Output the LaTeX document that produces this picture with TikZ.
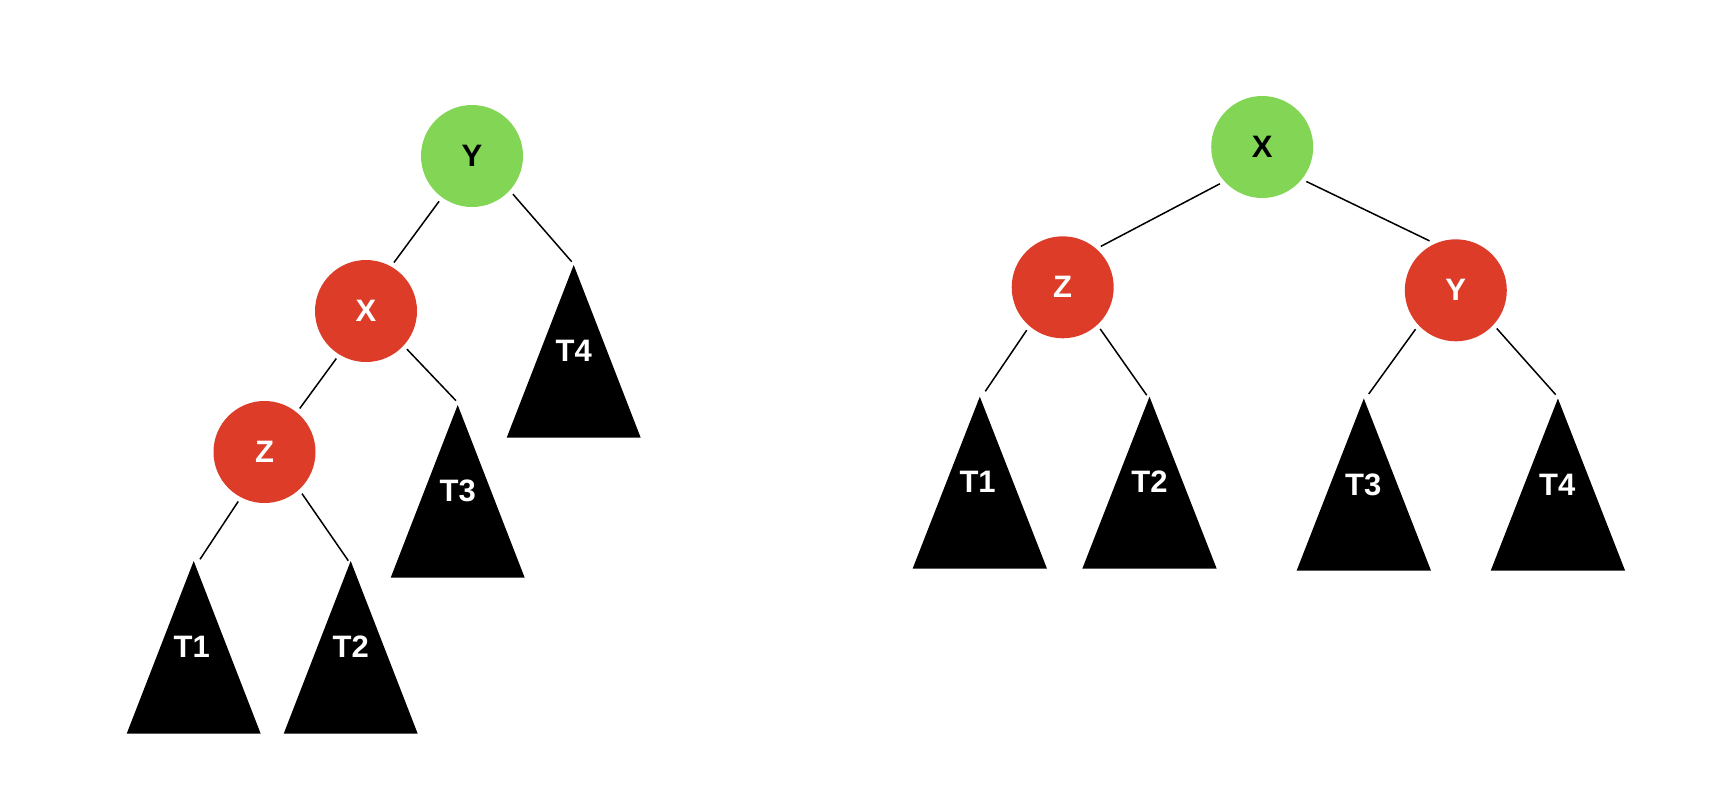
\documentclass[tikz,border=0pt]{standalone}
\usepackage{fontspec}
\setmainfont{Liberation Sans}
\definecolor{nodegreen}{RGB}{130,213,85}
\definecolor{nodered}{RGB}{220,60,40}
\begin{document}
\begin{tikzpicture}[x=1pt,y=-1pt,
  lbl/.style={font=\bfseries\fontsize{31}{31}\selectfont},
  rb/.style={circle, fill=nodered, minimum size=102pt, inner sep=0pt, outer sep=5pt, text=white, lbl},
  gb/.style={rb, fill=nodegreen, text=black},
  tlabel/.style={text=white, inner sep=0pt, lbl},
  subtree/.style={fill=black},
  edge/.style={line width=1.5pt, draw=black}]
\useasboundingbox (0,0) rectangle (1712,806);

% ---------- left tree ----------
\node[gb] (Yl) at (472,156) {Y};
\node[rb] (Xl) at (366,311) {X};
\node[rb] (Zl) at (264.5,452) {Z};

\coordinate (aT1l) at (193.7,561);
\coordinate (aT2l) at (350.7,561);
\coordinate (aT3l) at (457.7,405);
\coordinate (aT4l) at (573.7,265);
\fill[subtree] (aT1l) -- ++(-67,172.7) -- ++(134,0) -- cycle;
\fill[subtree] (aT2l) -- ++(-67,172.7) -- ++(134,0) -- cycle;
\fill[subtree] (aT3l) -- ++(-67,172.7) -- ++(134,0) -- cycle;
\fill[subtree] (aT4l) -- ++(-67,172.7) -- ++(134,0) -- cycle;
\node[tlabel] (T1l) at (191.7,646.7) {T1};
\node[tlabel] (T2l) at (350.7,646.7) {T2};
\node[tlabel] (T3l) at (457.7,491) {T3};
\node[tlabel] (T4l) at (573.7,350.7) {T4};

\coordinate (eT1l) at (200,559.3);
\coordinate (eT2l) at (348.3,560.7);
\coordinate (eT3l) at (456,400.7);
\coordinate (eT4l) at (571.7,261.7);

\draw[edge] (Yl.234) -- (Xl.60);
\draw[edge] (Yl.317) -- (eT4l);
\draw[edge] (Xl.238) -- (Zl.51);
\draw[edge] (Xl.317) -- (eT3l);
\draw[edge] (Zl.242) -- (eT1l);
\draw[edge] (Zl.312) -- (eT2l);

% ---------- right tree ----------
\node[gb] (Xr) at (1262.2,147) {X};
\node[rb] (Zr) at (1062.7,287.3) {Z};
\node[rb] (Yr) at (1455.8,290.3) {Y};

\coordinate (aT1r) at (979.8,396.7);
\coordinate (aT2r) at (1149.5,396.7);
\coordinate (aT3r) at (1363.8,398.5);
\coordinate (aT4r) at (1557.9,398.5);
\fill[subtree] (aT1r) -- ++(-67.2,172) -- ++(134.4,0) -- cycle;
\fill[subtree] (aT2r) -- ++(-67.2,172) -- ++(134.4,0) -- cycle;
\fill[subtree] (aT3r) -- ++(-67.2,172.2) -- ++(134.4,0) -- cycle;
\fill[subtree] (aT4r) -- ++(-67.2,172.2) -- ++(134.4,0) -- cycle;
\node[tlabel] (T1r) at (977.6,482) {T1};
\node[tlabel] (T2r) at (1149.5,482) {T2};
\node[tlabel] (T3r) at (1363.3,485) {T3};
\node[tlabel] (T4r) at (1557.3,485) {T4};

\coordinate (eT1r) at (985.3,391.3);
\coordinate (eT2r) at (1146.7,395.2);
\coordinate (eT3r) at (1368.7,394);
\coordinate (eT4r) at (1555.7,394.7);

\draw[edge] (Xr.221) -- (Zr.47.5);
\draw[edge] (Xr.322.7) -- (Yr.118.7);
\draw[edge] (Zr.230) -- (eT1r);
\draw[edge] (Zr.312.6) -- (eT2r);
\draw[edge] (Yr.224.4) -- (eT3r);
\draw[edge] (Yr.317.5) -- (eT4r);
\end{tikzpicture}
\end{document}
